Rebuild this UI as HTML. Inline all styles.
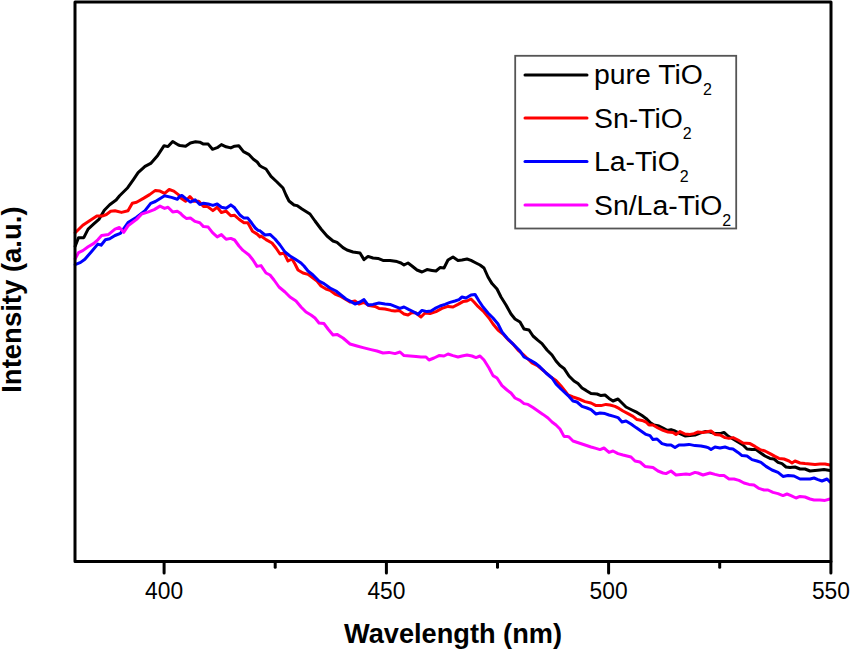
<!DOCTYPE html>
<html><head><meta charset="utf-8"><style>
html,body{margin:0;padding:0;background:#fff;}
body{width:850px;height:650px;overflow:hidden;position:relative;}
svg{position:absolute;left:0;top:0;}
text{font-family:"Liberation Sans",sans-serif;fill:#000;}
</style></head><body>
<svg width="850" height="650" viewBox="0 0 850 650">
<g fill="none" stroke-linejoin="round" stroke-linecap="round" stroke-width="3">
<polyline stroke="#000" points="75.2,246.3 78.5,237.7 83.8,237.7 88.1,229.1 93.5,224.2 98.9,219.4 104.3,210.2 109.7,204.8 116.1,200.0 119.6,195.7 127.7,187.7 133.4,179.6 138.1,172.7 145.0,166.4 150.7,163.4 157.7,155.4 164.1,145.7 168.0,146.6 172.7,141.5 178.4,145.0 180.0,145.5 185.6,146.2 190.4,143.0 195.5,141.8 199.8,142.2 203.5,144.1 208.2,144.1 212.5,149.3 217.2,147.7 221.4,144.6 226.1,146.8 230.8,147.9 234.6,146.2 238.8,145.8 243.5,151.6 248.7,154.3 253.4,159.2 257.2,162.0 260.0,165.8 262.0,167.0 266.0,169.0 271.0,176.4 277.0,182.0 283.0,188.0 286.0,195.0 289.0,201.0 294.0,205.0 297.0,205.6 302.0,209.0 310.0,214.0 315.0,221.0 321.0,229.0 327.0,236.0 333.0,241.0 337.0,242.4 343.0,247.6 347.0,250.0 353.0,252.0 360.0,253.0 364.0,259.6 368.0,256.4 373.0,258.0 378.0,258.4 383.0,260.4 390.0,260.4 397.0,261.6 401.0,263.0 404.0,265.0 408.0,263.0 412.0,266.0 417.0,270.0 422.0,272.0 427.0,269.6 432.0,270.4 436.0,271.0 440.0,267.6 444.0,268.0 448.0,260.0 453.0,257.0 458.0,260.4 462.0,260.0 467.0,259.0 471.0,260.4 476.0,263.0 480.0,265.0 484.0,268.0 488.0,277.0 492.0,283.6 497.0,289.0 501.0,297.0 506.0,305.0 511.0,314.0 515.0,319.0 520.0,322.0 524.0,329.0 529.0,330.0 533.0,336.0 538.0,340.4 542.0,343.6 547.0,350.0 552.0,355.0 556.0,361.0 560.0,365.6 564.0,368.4 569.0,376.0 574.0,381.0 578.0,383.6 582.0,388.0 586.0,390.4 591.0,393.6 597.0,394.0 601.0,395.6 605.0,395.0 609.0,398.4 613.0,401.0 618.0,399.0 622.0,403.0 626.0,407.0 632.0,410.0 637.0,412.4 642.0,415.6 646.0,418.4 650.0,422.4 654.0,425.0 659.0,426.0 663.0,428.0 667.0,430.4 671.0,429.6 675.0,431.0 680.0,433.6 685.0,436.0 690.0,435.6 695.0,435.0 700.0,433.0 705.0,431.6 710.0,432.0 715.0,433.6 720.0,433.6 724.0,432.4 728.0,436.0 733.0,439.0 738.0,442.0 743.0,445.0 747.0,449.0 752.0,449.6 756.0,449.6 760.0,452.4 765.0,456.0 770.0,458.4 774.0,459.0 778.0,462.4 782.0,463.6 786.0,467.0 790.0,467.6 795.0,467.0 800.0,469.0 805.0,469.0 810.0,471.0 815.0,470.4 820.0,470.0 824.0,469.6 830.0,470.4"/>
<polyline stroke="#ff0000" points="75.2,232.8 82.8,225.3 89.2,221.0 96.8,216.1 102.1,216.1 106.4,214.5 110.7,211.3 115.0,210.8 121.5,212.4 128.0,210.8 132.3,203.2 136.6,202.2 143.8,198.1 149.6,194.6 155.4,190.4 160.0,191.1 164.6,193.4 169.2,189.5 173.8,191.1 178.4,194.6 180.0,197.4 185.6,201.2 189.9,196.5 194.1,201.2 198.8,201.2 203.5,206.4 207.3,206.4 212.9,210.6 217.2,207.3 221.4,212.5 226.1,211.1 230.8,215.8 234.6,215.3 239.3,219.5 244.0,222.8 247.8,222.8 252.5,231.3 257.2,234.1 260.0,236.9 261.0,236.0 266.0,239.6 272.0,243.0 276.0,248.0 280.0,254.0 284.0,253.0 288.0,261.0 292.0,259.0 295.0,264.0 298.0,270.0 303.0,273.0 308.0,274.4 313.0,278.0 317.0,281.0 321.0,286.0 326.0,289.0 330.0,290.4 335.0,294.0 340.0,296.0 345.0,299.0 350.0,302.0 355.0,301.0 359.0,304.0 364.0,302.4 369.0,305.6 375.0,306.4 379.0,308.4 385.0,309.0 391.0,310.4 395.0,311.0 399.0,310.4 404.0,314.0 408.0,315.0 412.0,312.4 416.0,313.0 421.0,317.0 425.0,313.0 430.0,313.6 436.0,311.6 442.0,308.4 448.0,306.4 453.0,307.0 458.0,304.4 463.0,301.6 467.0,301.0 471.0,299.0 474.0,302.0 478.0,306.4 484.0,312.0 489.0,318.0 493.0,324.0 498.0,330.0 503.0,334.0 508.0,339.6 513.0,344.0 518.0,350.0 523.0,354.4 528.0,359.0 532.0,363.0 538.0,366.0 544.0,371.0 550.0,376.4 556.0,380.4 561.0,386.0 565.0,391.0 568.0,395.0 573.0,397.0 579.0,399.0 585.0,401.6 591.0,403.0 596.0,405.6 601.0,405.6 606.0,404.4 610.0,405.0 615.0,406.4 619.0,408.4 623.0,411.0 628.0,413.6 633.0,416.4 637.0,419.6 642.0,420.4 646.0,422.0 649.0,425.0 653.0,425.0 658.0,428.0 663.0,430.4 668.0,432.0 673.0,432.4 676.0,434.4 680.0,431.6 685.0,434.0 690.0,434.4 694.0,433.6 698.0,432.0 703.0,432.4 711.0,431.0 715.0,434.4 720.0,435.0 725.0,437.6 729.0,438.4 733.0,437.6 738.0,440.0 743.0,443.0 750.0,443.6 755.0,446.4 760.0,449.6 765.0,451.0 770.0,453.6 775.0,456.4 779.0,458.4 784.0,459.0 789.0,461.0 792.0,463.0 795.0,461.0 800.0,463.0 805.0,463.6 810.0,464.0 815.0,464.4 820.0,464.0 825.0,464.0 830.0,465.0"/>
<polyline stroke="#0000ff" points="75.2,264.6 80.6,262.4 84.9,259.2 91.4,251.7 97.8,244.1 101.1,245.2 105.4,239.8 109.7,238.7 115.0,235.5 120.4,233.4 128.0,222.6 136.6,217.2 145.0,210.7 150.7,203.4 155.4,201.5 164.6,195.7 171.5,197.4 177.3,199.2 180.0,196.0 181.9,195.5 185.6,198.4 190.4,202.1 195.1,199.8 199.8,204.5 203.5,203.3 208.2,204.0 212.9,205.4 217.2,204.0 221.4,207.3 226.1,208.2 230.8,204.9 234.6,207.8 240.2,215.3 244.0,218.1 247.8,218.1 251.5,222.8 255.3,228.0 258.1,230.4 260.0,230.8 265.0,235.0 270.0,234.4 275.0,239.0 280.0,245.0 285.0,252.0 290.0,256.0 295.0,259.0 301.0,263.0 304.0,266.0 308.0,271.0 313.0,275.0 319.0,281.0 324.0,283.6 330.0,288.0 336.0,291.0 341.0,295.0 346.0,299.0 351.0,301.6 355.0,304.0 360.0,302.0 364.0,299.6 368.0,305.0 373.0,304.4 379.0,303.0 385.0,304.0 390.0,304.4 395.0,306.4 400.0,308.4 404.0,307.0 409.0,309.6 414.0,312.0 418.0,314.4 422.0,310.4 427.0,311.6 431.0,311.0 435.0,308.4 440.0,306.0 445.0,304.4 450.0,302.4 455.0,301.0 459.0,299.6 462.0,297.0 466.0,298.0 471.0,295.0 475.0,294.4 479.0,301.0 483.0,307.0 488.0,313.0 493.0,318.0 498.0,324.0 502.0,332.0 507.0,338.0 512.0,343.0 520.0,351.0 524.0,357.0 530.0,360.0 536.0,363.6 540.0,367.0 546.0,373.0 552.0,378.0 556.0,384.0 561.0,389.0 566.0,393.6 569.0,396.4 573.0,401.0 577.0,402.0 582.0,406.4 587.0,408.0 591.0,409.6 596.0,414.0 600.0,413.0 605.0,413.6 609.0,415.0 614.0,416.4 618.0,417.6 622.0,422.0 626.0,421.0 631.0,424.0 636.0,427.6 641.0,431.0 646.0,434.4 650.0,435.6 653.0,439.6 657.0,439.0 662.0,443.6 667.0,445.0 671.0,445.0 675.0,447.6 679.0,445.0 684.0,445.0 689.0,444.4 695.0,445.6 701.0,446.0 706.0,447.0 708.0,447.6 711.0,449.6 715.0,447.0 720.0,448.0 725.0,447.0 729.0,448.4 733.0,449.0 738.0,452.4 742.0,455.6 747.0,456.0 752.0,459.6 757.0,461.0 761.0,462.4 766.0,466.4 772.0,470.0 778.0,472.4 783.0,476.4 788.0,475.6 794.0,476.0 800.0,479.0 805.0,479.0 810.0,479.0 814.0,478.0 818.0,479.6 822.0,481.0 827.0,479.0 830.0,482.0"/>
<polyline stroke="#ff00ff" points="75.2,258.7 78.5,252.7 82.8,250.6 88.1,246.8 93.5,243.6 97.8,239.8 101.6,235.5 108.6,234.4 115.0,229.1 119.4,227.4 123.7,232.3 128.0,225.8 136.6,219.4 141.5,214.2 148.4,211.9 154.2,209.6 160.0,206.1 164.6,208.4 168.0,207.3 172.7,211.9 177.3,211.2 180.0,212.9 182.8,215.8 186.6,218.6 190.4,218.1 195.1,221.4 199.8,222.8 203.5,226.6 208.2,227.1 212.5,232.7 217.2,236.9 221.4,234.6 226.1,239.3 230.8,238.4 234.6,240.0 239.0,246.0 243.0,250.4 249.0,255.0 253.0,260.0 257.0,266.4 261.0,265.6 266.0,273.0 270.0,275.0 274.0,280.0 279.0,287.0 285.0,292.0 290.0,297.0 296.0,301.0 301.0,307.0 306.0,312.0 311.0,315.0 315.0,318.0 319.0,323.0 324.0,323.6 328.0,329.0 333.0,335.0 337.0,334.4 343.0,338.0 350.0,344.0 357.0,346.0 363.0,347.6 371.0,349.6 377.0,351.0 383.0,353.0 389.0,352.4 395.0,353.6 400.0,352.0 404.0,355.6 410.0,356.0 416.0,356.4 421.0,357.0 426.0,357.0 429.0,360.0 434.0,358.0 439.0,355.6 444.0,356.0 448.0,354.0 453.0,355.6 458.0,357.0 462.0,356.0 467.0,355.0 472.0,356.0 476.0,357.6 480.0,356.0 484.0,360.0 489.0,368.0 493.0,375.6 497.0,378.0 502.0,385.6 507.0,390.0 511.0,393.0 515.0,398.0 520.0,400.4 524.0,403.6 528.0,404.4 533.0,407.6 538.0,411.0 543.0,414.4 548.0,418.0 552.0,422.0 556.0,425.0 560.0,429.0 564.0,436.4 567.0,436.4 569.0,437.0 573.0,441.0 579.0,443.0 585.0,445.0 591.0,447.0 596.0,448.4 600.0,449.6 604.0,448.0 609.0,452.4 613.0,451.0 618.0,453.6 623.0,455.0 627.0,456.0 631.0,457.0 635.0,461.0 640.0,462.0 645.0,466.4 649.0,467.0 653.0,467.6 658.0,471.0 663.0,473.0 666.0,473.6 671.0,471.0 676.0,475.0 681.0,474.4 686.0,474.0 690.0,474.4 695.0,472.4 698.0,473.0 703.0,475.0 710.0,473.0 715.0,474.4 720.0,475.6 724.0,475.6 729.0,479.0 734.0,479.0 739.0,480.4 744.0,483.0 749.0,484.4 754.0,485.0 759.0,488.4 764.0,490.0 768.0,490.0 773.0,492.4 778.0,493.6 783.0,495.6 787.0,494.0 791.0,495.6 796.0,498.0 800.0,496.4 805.0,497.0 810.0,499.0 814.0,500.0 820.0,500.0 825.0,500.4 830.0,499.0"/>
</g>
<rect x="75" y="2.1" width="756" height="559.5" fill="none" stroke="#000" stroke-width="3" stroke-linejoin="round"/>
<g stroke="#000" stroke-width="3" stroke-linecap="round"><line x1="164.1" y1="561.6" x2="164.1" y2="573" /><line x1="386.4" y1="561.6" x2="386.4" y2="573" /><line x1="608.6" y1="561.6" x2="608.6" y2="573" /><line x1="830.9" y1="561.6" x2="830.9" y2="573" /><line x1="275.2" y1="561.6" x2="275.2" y2="567.3" /><line x1="497.5" y1="561.6" x2="497.5" y2="567.3" /><line x1="719.7" y1="561.6" x2="719.7" y2="567.3" /></g>
<g font-size="23.5"><text transform="translate(164.1,598.9) scale(0.97,1)" text-anchor="middle">400</text><text transform="translate(386.4,598.9) scale(0.97,1)" text-anchor="middle">450</text><text transform="translate(608.6,598.9) scale(0.97,1)" text-anchor="middle">500</text><text transform="translate(830.9,598.9) scale(0.97,1)" text-anchor="middle">550</text></g>
<text x="453" y="643.1" text-anchor="middle" font-size="27.2" font-weight="bold">Wavelength (nm)</text>
<text transform="translate(21.1,299.6) rotate(-90)" text-anchor="middle" font-size="27.5" font-weight="bold">Intensity (a.u.)</text>
<rect x="515.2" y="55.8" width="221" height="172.7" fill="#fff" stroke="#555" stroke-width="1.8"/>
<g stroke-width="3" stroke-linecap="round">
<line x1="525" y1="75" x2="587" y2="75" stroke="#000"/>
<line x1="525" y1="118.1" x2="587" y2="118.1" stroke="#ff0000"/>
<line x1="525" y1="161.6" x2="587" y2="161.6" stroke="#0000ff"/>
<line x1="525" y1="205.1" x2="587" y2="205.1" stroke="#ff00ff"/>
</g>
<g font-size="28.4">
<text x="594" y="84.1">pure TiO<tspan font-size="16" dy="10.9">2</tspan></text>
<text x="594" y="127.6">Sn-TiO<tspan font-size="16" dy="10.9">2</tspan></text>
<text x="594" y="171.1">La-TiO<tspan font-size="16" dy="10.9">2</tspan></text>
<text x="594" y="214.6">Sn/La-TiO<tspan font-size="16" dy="10.9">2</tspan></text>
</g>
</svg>
</body></html>
